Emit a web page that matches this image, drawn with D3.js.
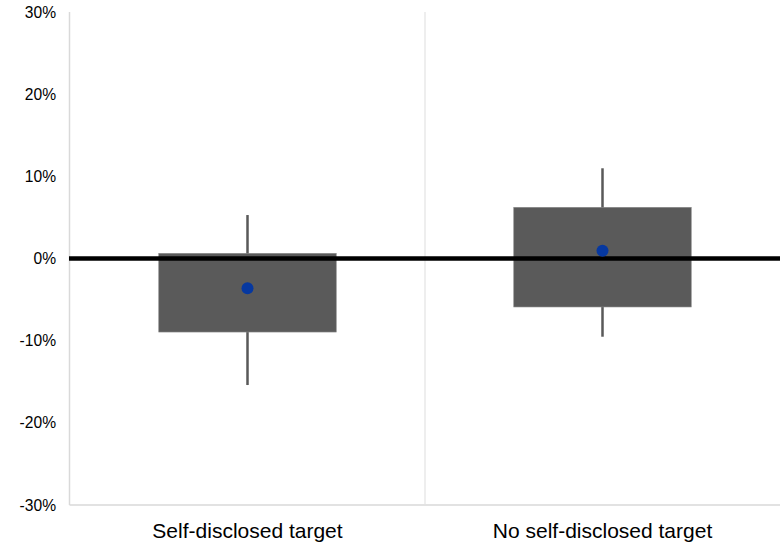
<!DOCTYPE html>
<html>
<head>
<meta charset="utf-8">
<script src="https://cdn.jsdelivr.net/npm/d3@7"></script>
<style>
  html, body { margin: 0; padding: 0; background: #fff; }
  svg { display: block; font-family: "Liberation Sans", Arial, sans-serif; }
</style>
</head>
<body>
<svg id="chart" width="780" height="542"></svg>
<script>
// Groups along the x axis
const categories = ["Self-disclosed target", "No self-disclosed target"];
// Interval ends (box) for each group
const boxLow = [-0.0895, -0.059];
const boxHigh = [0.0063, 0.0623];
// Outer range (whiskers) for each group
const whiskerLow = [-0.154, -0.0952];
const whiskerHigh = [0.0529, 0.1098];
// Point estimate for each group
const estimate = [-0.0363, 0.0095];
// Y axis ticks
const yTicks = [-0.3, -0.2, -0.1, 0, 0.1, 0.2, 0.3];

const rows = categories.map((c, i) => ({
  cat: c, lo: boxLow[i], hi: boxHigh[i],
  wlo: whiskerLow[i], whi: whiskerHigh[i], est: estimate[i]
}));

const svg = d3.select("#chart");
const plotLeft = 70, plotRight = 780, plotTop = 12, plotBottom = 505;

const x = d3.scaleBand().domain(categories).range([plotLeft, plotRight]).padding(0);
const y = d3.scaleLinear().domain([-0.3, 0.3]).range([plotBottom, plotTop]);

// Frame lines: left axis, bottom axis, group separator
const grid = svg.append("g").attr("stroke", "#d9d9d9").attr("stroke-width", 1.5);
grid.append("line").attr("x1", plotLeft - 0.5).attr("x2", plotLeft - 0.5).attr("y1", plotTop).attr("y2", plotBottom);
grid.append("line").attr("x1", plotLeft - 0.5).attr("x2", plotRight).attr("y1", plotBottom).attr("y2", plotBottom);
categories.slice(1).forEach(c => {
  grid.append("line").attr("x1", x(c)).attr("x2", x(c)).attr("y1", plotTop).attr("y2", plotBottom)
    .attr("stroke", "#e3e3e3").attr("stroke-width", 1.2);
});

// Y axis tick labels (plain hyphen for negatives)
const pct = d => Math.round(d * 100) + "%";
const yAxis = d3.axisLeft(y).tickValues(yTicks).tickFormat(pct).tickSize(0).tickPadding(14);
const ya = svg.append("g").attr("transform", `translate(${plotLeft},0)`).call(yAxis);
ya.select(".domain").remove();
ya.selectAll("text").attr("font-size", 15.6).attr("fill", "#000")
  .attr("font-family", "'Liberation Sans', Arial, sans-serif");

// Whiskers
const bw = x.bandwidth();
svg.append("g").selectAll("line").data(rows).join("line")
  .attr("x1", d => x(d.cat) + bw / 2).attr("x2", d => x(d.cat) + bw / 2)
  .attr("y1", d => y(d.whi)).attr("y2", d => y(d.wlo))
  .attr("stroke", "#595959").attr("stroke-width", 2.5);

// Boxes
svg.append("g").selectAll("rect").data(rows).join("rect")
  .attr("x", d => x(d.cat) + bw / 4).attr("width", bw / 2)
  .attr("y", d => y(d.hi)).attr("height", d => y(d.lo) - y(d.hi))
  .attr("fill", "#5a5a5a").attr("stroke", "#8a8a8a").attr("stroke-width", 0.6);

// Zero reference line
svg.append("line").attr("x1", plotLeft - 1).attr("x2", plotRight).attr("y1", y(0)).attr("y2", y(0))
  .attr("stroke", "#000").attr("stroke-width", 4.5);

// Point estimates
svg.append("g").selectAll("circle").data(rows).join("circle")
  .attr("cx", d => x(d.cat) + bw / 2).attr("cy", d => y(d.est)).attr("r", 6)
  .attr("fill", "#0638a0");

// Category labels
svg.append("g").selectAll("text").data(rows).join("text")
  .attr("x", d => x(d.cat) + bw / 2).attr("y", 538)
  .attr("text-anchor", "middle").attr("font-size", 21).attr("fill", "#000")
  .text(d => d.cat);
</script>
</body>
</html>
